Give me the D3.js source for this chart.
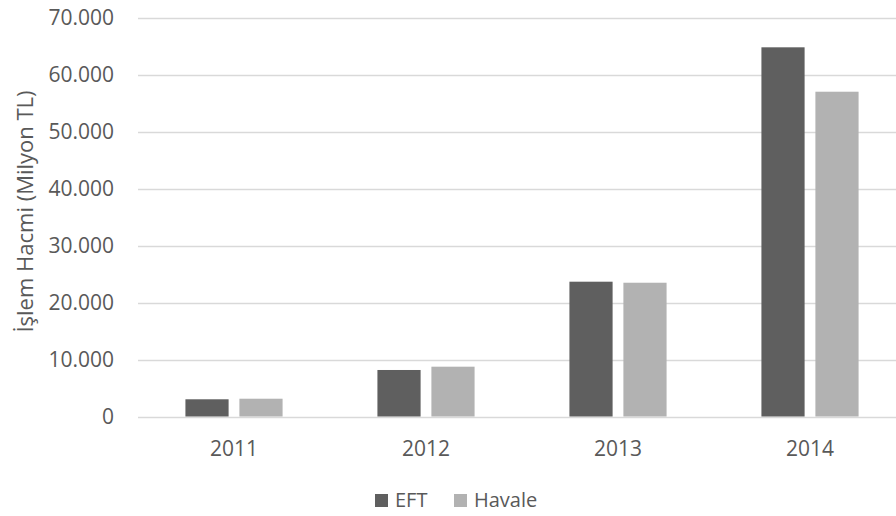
<!DOCTYPE html>
<html><head><meta charset="utf-8">
<script src="https://cdn.jsdelivr.net/npm/d3@7"></script>
<style>
html,body{margin:0;padding:0;background:#fff;}
text{font-family:"Open Sans",sans-serif;fill:#595959;}
</style></head>
<body><svg id="c" width="896" height="516"></svg>
<script>
const categories = ["2011","2012","2013","2014"];
const seriesNames = ["EFT","Havale"];
const eftValues = [3020, 8160, 23650, 64770];
const havaleValues = [3120, 8740, 23470, 56980];
const yTicks = [0,10000,20000,30000,40000,50000,60000,70000];
const colors = {EFT:"#5f5f5f", Havale:"#b2b2b2"};
const yTitle = "İşlem Hacmi (Milyon TL)";

const svg = d3.select("#c");
const x0 = d3.scaleBand().domain(categories).range([138, 906]).padding(0);
const bw = x0.bandwidth();
const x1 = d3.scaleBand().domain(seriesNames).range([0.247*bw, 0.753*bw]).paddingInner(0.2);
const y = d3.scaleLinear().domain([0,70000]).range([416.5, 17.5]);
const loc = d3.formatLocale({thousands:".", decimal:",", grouping:[3], currency:["",""]});
const fmt = loc.format(",");

// gridlines
svg.append("g").selectAll("line").data(yTicks).join("line")
  .attr("x1",138).attr("x2",896)
  .attr("y1",d=>Math.round(y(d))+0.5).attr("y2",d=>Math.round(y(d))+0.5)
  .attr("stroke","#d9d9d9").attr("stroke-width",1.3);

// y tick labels
svg.append("g").selectAll("text").data(yTicks).join("text")
  .attr("x",114).attr("y",d=>y(d)).attr("dy","0.36em")
  .attr("text-anchor","end").attr("font-size",21).text(d=>fmt(d));

// bars
const data = categories.map((c,i)=>({cat:c, vals:[{k:"EFT",v:eftValues[i]},{k:"Havale",v:havaleValues[i]}]}));
const g = svg.append("g").selectAll("g").data(data).join("g")
  .attr("transform",d=>`translate(${x0(d.cat)},0)`);
g.selectAll("rect").data(d=>d.vals).join("rect")
  .attr("x",d=>x1(d.k)).attr("width",x1.bandwidth())
  .attr("y",d=>y(d.v)).attr("height",d=>y(0)-y(d.v))
  .attr("fill",d=>colors[d.k]);

// x labels
svg.append("g").selectAll("text").data(categories).join("text")
  .attr("x",d=>x0(d)+bw/2).attr("y",456).attr("text-anchor","middle")
  .attr("font-size",21).text(d=>d);

// y title
svg.append("text").attr("transform","translate(33,211.5) rotate(-90)")
  .attr("text-anchor","middle").attr("font-size",22).text(yTitle);

// legend
const leg = svg.append("g");
const legItems = [{k:"EFT",x:375},{k:"Havale",x:454}];
legItems.forEach(it=>{
  leg.append("rect").attr("x",it.x).attr("y",494).attr("width",13).attr("height",13).attr("fill",colors[it.k]);
  leg.append("text").attr("x",it.x+20).attr("y",507).attr("font-size",20).text(it.k);
});
</script></body></html>
